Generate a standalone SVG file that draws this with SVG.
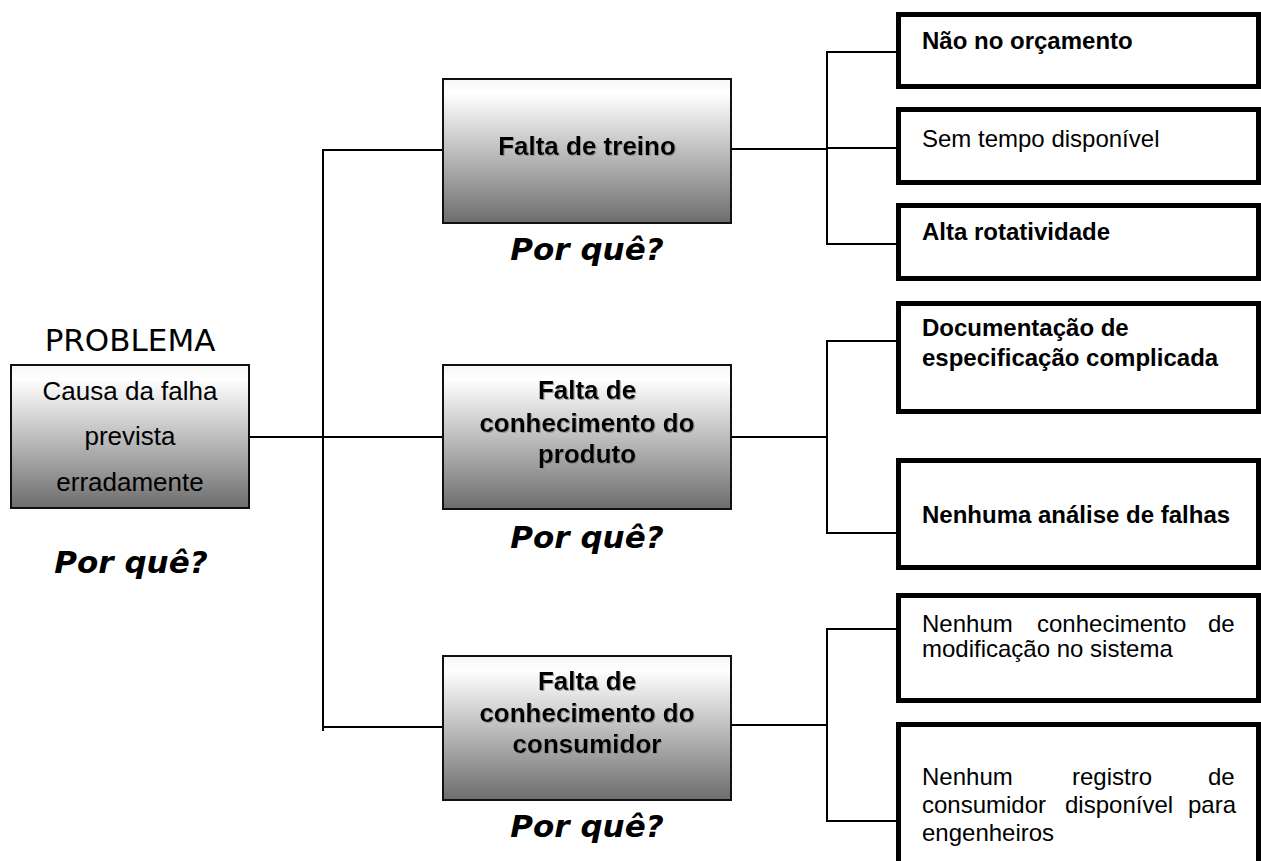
<svg xmlns="http://www.w3.org/2000/svg" width="1261" height="861" viewBox="0 0 1261 861">
<defs>
<linearGradient id="g" x1="0" y1="0" x2="0" y2="1">
<stop offset="0" stop-color="#f6f6f6"/>
<stop offset="0.1" stop-color="#ffffff"/>
<stop offset="1" stop-color="#6d6d6d"/>
</linearGradient>
<filter id="sh" x="-5%" y="-5%" width="110%" height="120%">
<feDropShadow dx="1" dy="1" stdDeviation="0.6" flood-color="#888" flood-opacity="0.8"/>
</filter>
</defs>
<style>
.gbox{fill:url(#g);stroke:#111;stroke-width:2}
.wbox{fill:#fff;stroke:#000;stroke-width:5}
.ln{stroke:#000;stroke-width:2;fill:none}
.mid{font-family:"Liberation Sans",Arial,sans-serif;font-weight:bold;font-size:26px;fill:#000;text-anchor:middle}
.lt{font-family:"Liberation Sans",Arial,sans-serif;font-size:26px;fill:#000;text-anchor:middle}
.rb{font-family:"Liberation Sans",Arial,sans-serif;font-weight:bold;font-size:24px;fill:#000}
.rr{font-family:"Liberation Sans",Arial,sans-serif;font-size:24px;fill:#000}
.why{font-family:"DejaVu Sans",Verdana,sans-serif;font-weight:bold;font-style:italic;font-size:31px;fill:#000;text-anchor:middle}
.prob{font-family:"DejaVu Sans",Verdana,sans-serif;font-size:31px;fill:#000;text-anchor:middle}
</style>
<rect width="1261" height="861" fill="#fff"/>
<g id="connectors">
<line class="ln" x1="249" y1="437" x2="443" y2="437"/>
<line class="ln" x1="323" y1="149" x2="323" y2="731"/>
<line class="ln" x1="322" y1="150" x2="443" y2="150"/>
<line class="ln" x1="322" y1="727" x2="443" y2="727"/>
<line class="ln" x1="731" y1="149" x2="827" y2="149"/>
<line class="ln" x1="827" y1="51" x2="827" y2="245"/>
<line class="ln" x1="826" y1="52" x2="896" y2="52"/>
<line class="ln" x1="827" y1="148" x2="896" y2="148"/>
<line class="ln" x1="826" y1="244" x2="896" y2="244"/>
<line class="ln" x1="731" y1="437" x2="827" y2="437"/>
<line class="ln" x1="827" y1="340" x2="827" y2="534"/>
<line class="ln" x1="826" y1="341" x2="896" y2="341"/>
<line class="ln" x1="826" y1="533" x2="896" y2="533"/>
<line class="ln" x1="731" y1="725" x2="827" y2="725"/>
<line class="ln" x1="827" y1="628" x2="827" y2="822"/>
<line class="ln" x1="826" y1="629" x2="896" y2="629"/>
<line class="ln" x1="826" y1="821" x2="896" y2="821"/>
</g>
<g id="problema">
<text class="prob" x="130" y="351">PROBLEMA</text>
<rect class="gbox" x="11" y="365" width="238" height="143"/>
<text class="lt" x="130" y="400">Causa da falha</text>
<text class="lt" x="130" y="445">prevista</text>
<text class="lt" x="130" y="491">erradamente</text>
<text class="why" x="131" y="573">Por quê?</text>
</g>
<g id="treino">
<rect class="gbox" x="443" y="79" width="288" height="144"/>
<text class="mid" x="587" y="155" filter="url(#sh)">Falta de treino</text>
<text class="why" x="587" y="260">Por quê?</text>
</g>
<g id="produto">
<rect class="gbox" x="443" y="365" width="288" height="144"/>
<text class="mid" x="587" y="399" filter="url(#sh)">Falta de</text>
<text class="mid" x="587" y="432" filter="url(#sh)">conhecimento do</text>
<text class="mid" x="587" y="463" filter="url(#sh)">produto</text>
<text class="why" x="587" y="548">Por quê?</text>
</g>
<g id="consumidor">
<rect class="gbox" x="443" y="656" width="288" height="144"/>
<text class="mid" x="587" y="690" filter="url(#sh)">Falta de</text>
<text class="mid" x="587" y="722" filter="url(#sh)">conhecimento do</text>
<text class="mid" x="587" y="753" filter="url(#sh)">consumidor</text>
<text class="why" x="587" y="837">Por quê?</text>
</g>
<g id="orcamento">
<rect class="wbox" x="898.5" y="14.5" width="360" height="72"/>
<text class="rb" x="922" y="49">Não no orçamento</text>
</g>
<g id="tempo">
<rect class="wbox" x="898.5" y="109.5" width="360" height="73"/>
<text class="rr" x="922" y="147">Sem tempo disponível</text>
</g>
<g id="rotatividade">
<rect class="wbox" x="898.5" y="205.5" width="360" height="73"/>
<text class="rb" x="922" y="240">Alta rotatividade</text>
</g>
<g id="documentacao">
<rect class="wbox" x="898.5" y="303.5" width="360" height="108"/>
<text class="rb" x="922" y="336">Documentação de</text>
<text class="rb" x="922" y="366">especificação complicada</text>
</g>
<g id="analise">
<rect class="wbox" x="898.5" y="460.5" width="360" height="107"/>
<text class="rb" x="922" y="523">Nenhuma análise de falhas</text>
</g>
<g id="modificacao">
<rect class="wbox" x="898.5" y="595.5" width="360" height="105"/>
<text class="rr" y="632"><tspan x="922">Nenhum</tspan><tspan x="1037">conhecimento</tspan><tspan x="1208">de</tspan></text>
<text class="rr" x="922" y="657">modificação no sistema</text>
</g>
<g id="registro">
<rect class="wbox" x="898.5" y="724.5" width="360" height="150"/>
<text class="rr" y="785"><tspan x="922">Nenhum</tspan><tspan x="1072">registro</tspan><tspan x="1208">de</tspan></text>
<text class="rr" y="813"><tspan x="922">consumidor</tspan><tspan x="1065">disponível</tspan><tspan x="1188">para</tspan></text>
<text class="rr" x="922" y="841">engenheiros</text>
</g>
</svg>
